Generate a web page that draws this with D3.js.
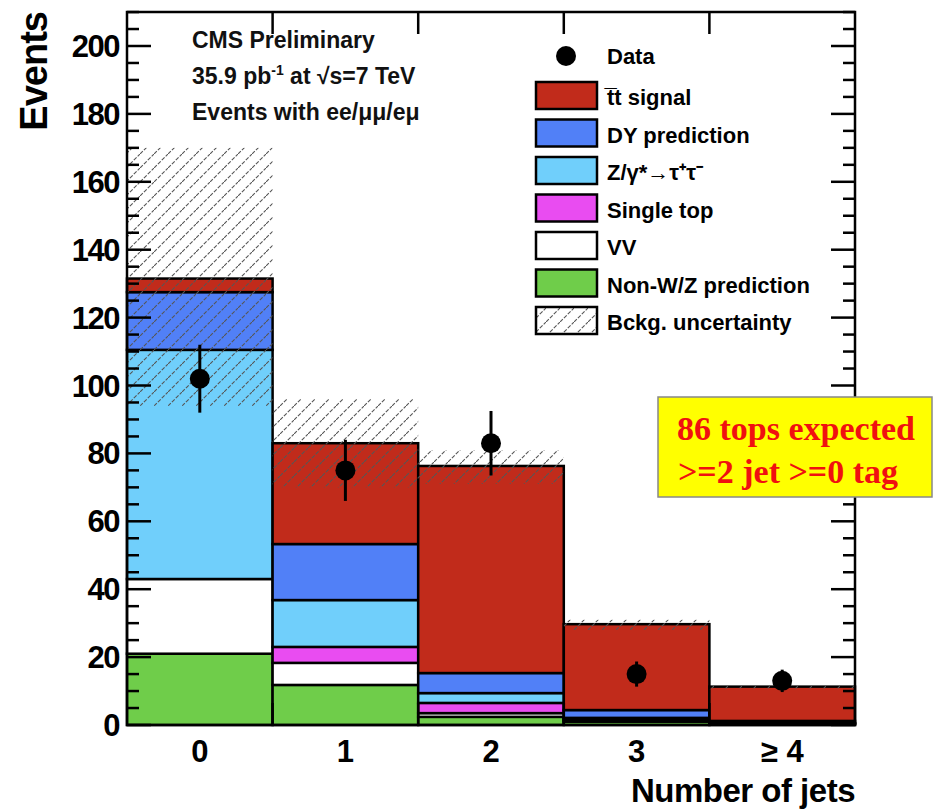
<!DOCTYPE html>
<html><head><meta charset="utf-8">
<script src="https://cdn.jsdelivr.net/npm/d3@7"></script>
<style>body{margin:0;background:#fff}svg{font-family:"Liberation Sans",Arial,sans-serif}</style>
</head><body><svg id="c" width="933" height="811"></svg>
<script>
var bins = ['0', '1', '2', '3', '\u2265 4'];
var nonWZ = [21, 11.8, 2.4, 1, 0.3];
var vv = [22, 6.5, 1.1, 0.3, 0.1];
var singleTop = [0, 4.7, 3, 0.3, 0.1];
var ztautau = [67.5, 13.8, 2.9, 0.5, 0.1];
var dy = [17, 16.5, 5.9, 2.3, 0.6];
var ttbar = [4, 29.7, 61, 25.3, 10.1];
var uncLo = [94, 70, 71, 28, 10.5];
var uncHi = [170, 96, 81, 31, 11.5];
var dataVal = [102, 75, 83, 15, 13];
var dataErr = [10, 9, 9.5, 3.7, 3.3];
var yTicks = [0, 20, 40, 60, 80, 100, 120, 140, 160, 180, 200];

var series = [
  {name: 'Non-W/Z prediction', vals: nonWZ, color: '#6fcd4a'},
  {name: 'VV', vals: vv, color: '#ffffff'},
  {name: 'Single top', vals: singleTop, color: '#e94cf1'},
  {name: 'Z/\u03b3*\u2192\u03c4\u207a\u03c4\u207b', vals: ztautau, color: '#70cffb'},
  {name: 'DY prediction', vals: dy, color: '#5180f7'},
  {name: 't\u0305t signal', vals: ttbar, color: '#c12b1b'}
];

var svg = d3.select('#c');
var L = 127, R = 855, T = 12, B = 725;
var x = d3.scaleLinear().domain([0, 5]).range([L, R]);
var y = d3.scaleLinear().domain([0, 210]).range([B, B - 210 * (B - 46) / 200]);

var defs = svg.append('defs');
var pat = defs.append('pattern').attr('id', 'hatch').attr('width', 14).attr('height', 14)
  .attr('patternUnits', 'userSpaceOnUse');
pat.append('path').attr('d', 'M0,14 L14,0 M-3.5,3.5 L3.5,-3.5 M10.5,17.5 L17.5,10.5')
  .attr('stroke', '#555').attr('stroke-width', 1.1).attr('stroke-dasharray', '4,1.5');

// stacked histogram
var g = svg.append('g');
bins.forEach(function(b, i) {
  var base = 0;
  series.forEach(function(s) {
    var v = s.vals[i];
    if (v > 0) {
      g.append('rect').attr('x', x(i)).attr('width', x(i + 1) - x(i))
        .attr('y', y(base + v)).attr('height', y(base) - y(base + v))
        .attr('fill', s.color).attr('stroke', '#000').attr('stroke-width', 2.5);
    }
    base += v;
  });
});
// uncertainty band
g.selectAll('.unc').data(bins).enter().append('rect')
  .attr('x', function(d, i) { return x(i); })
  .attr('width', function(d, i) { return x(i + 1) - x(i); })
  .attr('y', function(d, i) { return y(uncHi[i]); })
  .attr('height', function(d, i) { return y(uncLo[i]) - y(uncHi[i]); })
  .attr('fill', 'url(#hatch)');

// data points
var pts = svg.append('g');
dataVal.forEach(function(v, i) {
  var cx = x(i + 0.5);
  pts.append('line').attr('x1', cx).attr('x2', cx)
    .attr('y1', y(v - dataErr[i])).attr('y2', y(v + dataErr[i]))
    .attr('stroke', '#000').attr('stroke-width', 3);
  pts.append('circle').attr('cx', cx).attr('cy', y(v)).attr('r', 10).attr('fill', '#000');
});

// frame and ticks
svg.append('rect').attr('x', L).attr('y', T).attr('width', R - L).attr('height', B - T)
  .attr('fill', 'none').attr('stroke', '#000').attr('stroke-width', 2.5);
var ax = svg.append('g');
d3.range(0, 211, 5).forEach(function(v) {
  var len = v % 20 === 0 ? 24 : 12;
  ax.append('line').attr('x1', L).attr('x2', L + len).attr('y1', y(v)).attr('y2', y(v))
    .attr('stroke', '#000').attr('stroke-width', 2.5);
  ax.append('line').attr('x1', R).attr('x2', R - len).attr('y1', y(v)).attr('y2', y(v))
    .attr('stroke', '#000').attr('stroke-width', 2.5);
});
d3.range(1, 5).forEach(function(i) {
  ax.append('line').attr('x1', x(i)).attr('x2', x(i)).attr('y1', B).attr('y2', B - 22)
    .attr('stroke', '#000').attr('stroke-width', 2.5);
  ax.append('line').attr('x1', x(i)).attr('x2', x(i)).attr('y1', T).attr('y2', T + 22)
    .attr('stroke', '#000').attr('stroke-width', 2.5);
});
ax.selectAll('.yt').data(yTicks).enter().append('text')
  .attr('x', L - 8).attr('y', function(d) { return y(d) + 11; })
  .attr('text-anchor', 'end').attr('font-size', 31).attr('font-weight', 'bold')
  .attr('letter-spacing', -1.5).text(function(d) { return d; });
ax.selectAll('.xt').data(bins).enter().append('text')
  .attr('x', function(d, i) { return x(i + 0.5); }).attr('y', B + 37)
  .attr('text-anchor', 'middle').attr('font-size', 31).attr('font-weight', 'bold')
  .text(function(d) { return d; });
svg.append('text').attr('x', R).attr('y', 802).attr('text-anchor', 'end')
  .attr('font-size', 33).attr('font-weight', 'bold').attr('letter-spacing', -0.5).text('Number of jets');
svg.append('text').attr('transform', 'translate(47,12) rotate(-90)').attr('text-anchor', 'end')
  .attr('font-size', 38).attr('font-weight', 'bold').attr('letter-spacing', -1).text('Events');

// labels
var info = svg.append('g').attr('font-size', 23).attr('font-weight', 'bold').attr('fill', '#111');
info.append('text').attr('x', 192).attr('y', 48).text('CMS Preliminary');
var t2 = info.append('text').attr('x', 192).attr('y', 84);
t2.append('tspan').text('35.9 pb');
t2.append('tspan').attr('dy', -9).attr('font-size', 14).text('-1');
t2.append('tspan').attr('dy', 9).text(' at \u221As=7 TeV');
info.append('text').attr('x', 192).attr('y', 120).text('Events with ee/\u03bc\u03bc/e\u03bc');

// legend
var leg = svg.append('g').attr('font-size', 22).attr('font-weight', 'bold');
leg.append('circle').attr('cx', 566).attr('cy', 56).attr('r', 10).attr('fill', '#000');
leg.append('text').attr('x', 607).attr('y', 64).text('Data');
var legItems = series.slice().reverse().concat([{name: 'Bckg. uncertainty', color: 'url(#hatch)'}]);
legItems.forEach(function(s, i) {
  var yy = 82 + i * 37.5;
  leg.append('rect').attr('x', 536).attr('y', yy).attr('width', 61).attr('height', 27)
    .attr('fill', s.color).attr('stroke', '#000').attr('stroke-width', 2.5);
  leg.append('text').attr('x', 607).attr('y', yy + 23).text(s.name);
});

// annotation box
var box = svg.append('g').style('font-family', '"Liberation Serif", "Times New Roman", serif');
box.append('rect').attr('x', 658).attr('y', 397).attr('width', 274).attr('height', 100)
  .attr('fill', '#ffff00').attr('stroke', '#888').attr('stroke-width', 1.5);
box.append('text').attr('x', 796).attr('y', 440).attr('text-anchor', 'middle')
  .attr('font-size', 34).attr('font-weight', 'bold')
  .attr('fill', '#f01010').text('86 tops expected');
box.append('text').attr('x', 788).attr('y', 483).attr('text-anchor', 'middle')
  .attr('font-size', 34).attr('font-weight', 'bold')
  .attr('fill', '#f01010').text('>=2 jet >=0 tag');
</script></body></html>
